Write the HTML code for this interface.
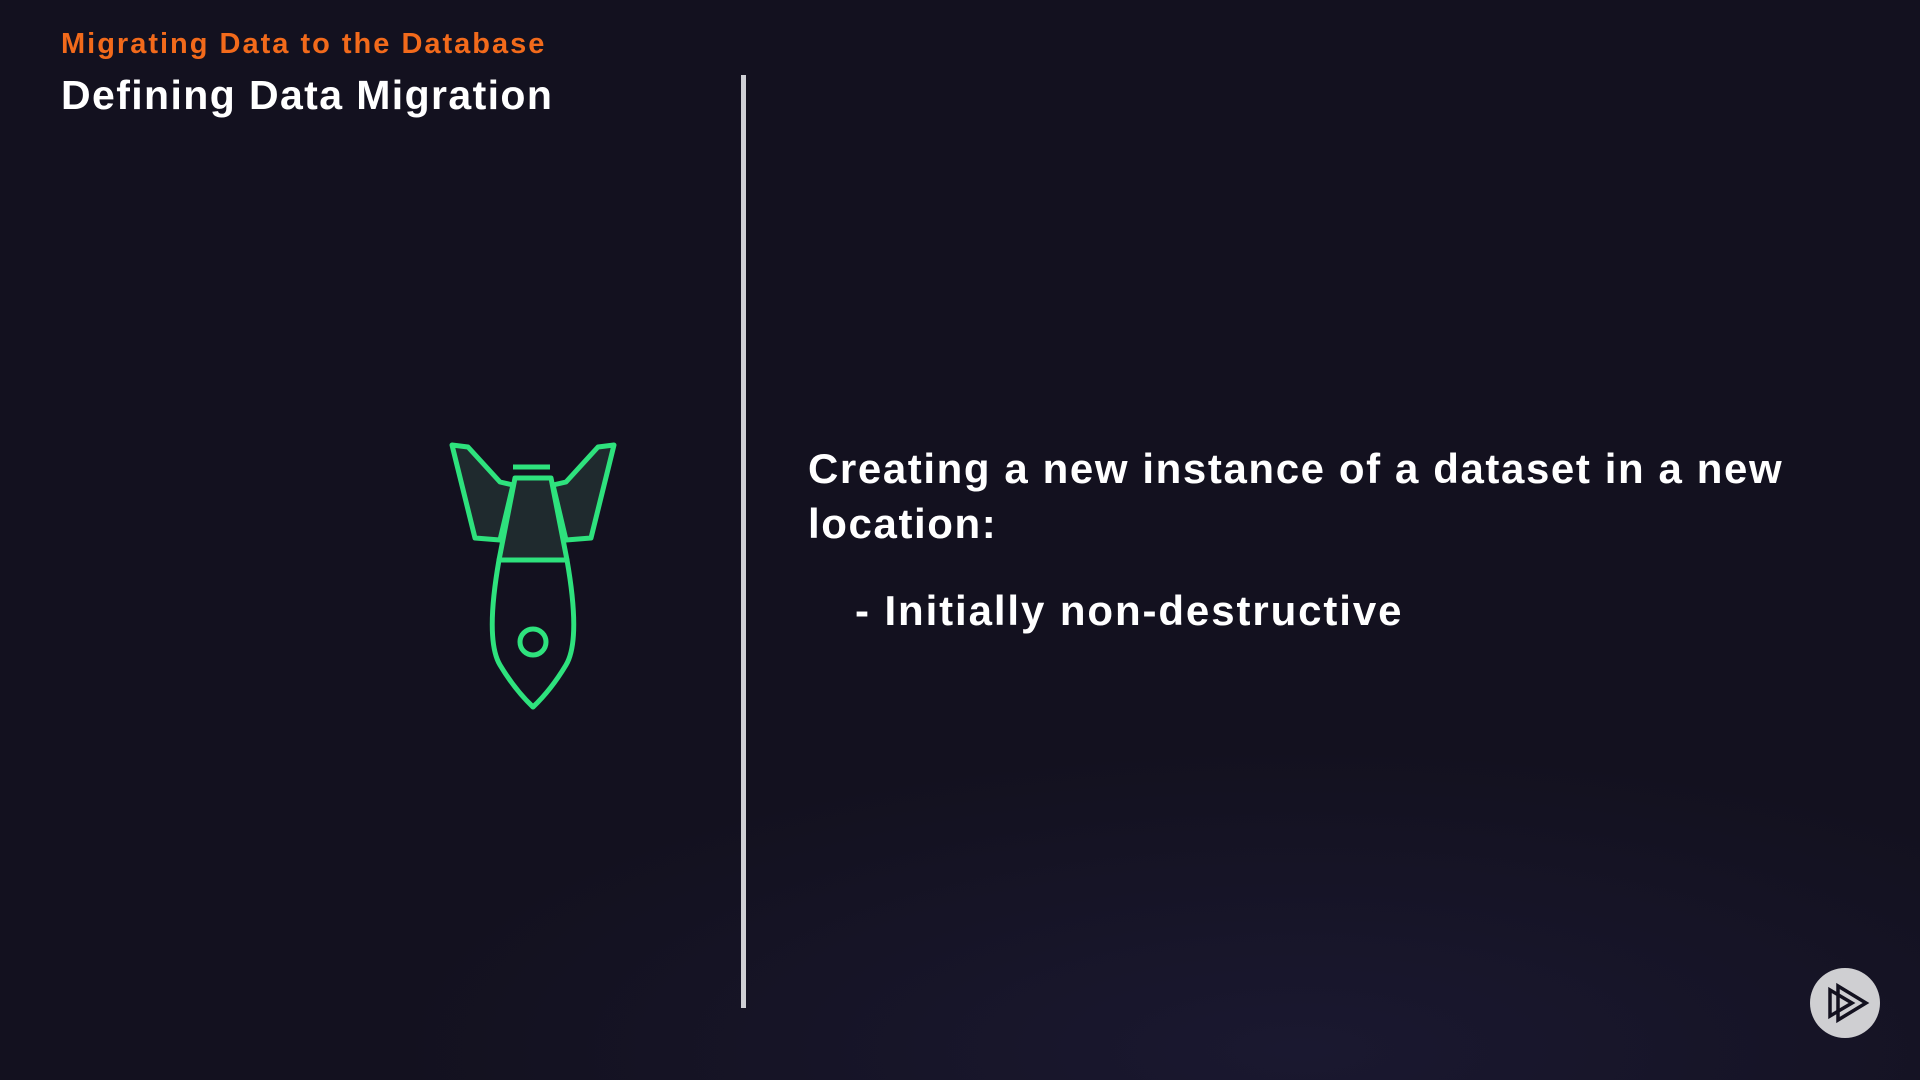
<!DOCTYPE html>
<html><head><style>
body{margin:0;width:1920px;height:1080px;background:#13111f;overflow:hidden;position:relative;font-family:"Liberation Sans",sans-serif;font-weight:bold}
.t{position:absolute;white-space:nowrap}
</style></head><body>
<div style="position:absolute;left:0;top:0;width:1920px;height:1080px;background:radial-gradient(ellipse 900px 300px at 1300px 1050px,#1a1830,transparent)"></div>
<div class="t" style="left:61px;top:28px;font-size:29px;color:#f26a1b;letter-spacing:2px">Migrating Data to the Database</div>
<div class="t" style="left:61px;top:72px;font-size:41px;color:#fff;letter-spacing:1.4px">Defining Data Migration</div>
<div style="position:absolute;left:741px;top:75px;width:5px;height:933px;background:#cfcfd4"></div>
<div class="t" style="left:808px;top:441px;font-size:42px;color:#fff;line-height:55px;letter-spacing:1.6px">Creating a new instance of a dataset in a new<br>location:</div>
<div class="t" style="left:855px;top:587px;font-size:42px;color:#fff;letter-spacing:1.9px">- Initially non-destructive</div>
<svg width="1920" height="1080" style="position:absolute;left:0;top:0">
<g stroke="#2ee27d" stroke-width="5" stroke-linejoin="round" fill="#1f2a2e">
<polygon points="452,445 468,447 500,482 513,485 500,540 475,538"/>
<polygon points="614,445 598,447 566,482 553,485 566,540 591,538"/>
<polygon points="515,478 551,478 567,560 499,560"/>
<path d="M499,560 Q485,640 500,665 Q515,690 533,707 Q551,690 566,665 Q581,640 567,560 Z" fill="none"/>
<circle cx="533" cy="642" r="13" fill="none"/>
<line x1="513" y1="467" x2="550" y2="467"/>
</g>
<circle cx="1845" cy="1003" r="35" fill="#cfcfd2"/>
<g fill="none" stroke="#13111f" stroke-width="3.5" stroke-linejoin="miter">
<polygon points="1830,990 1852,1003 1830,1016"/>
<polygon points="1838,986 1866,1003 1838,1020"/>
</g>
</svg>
</body></html>
